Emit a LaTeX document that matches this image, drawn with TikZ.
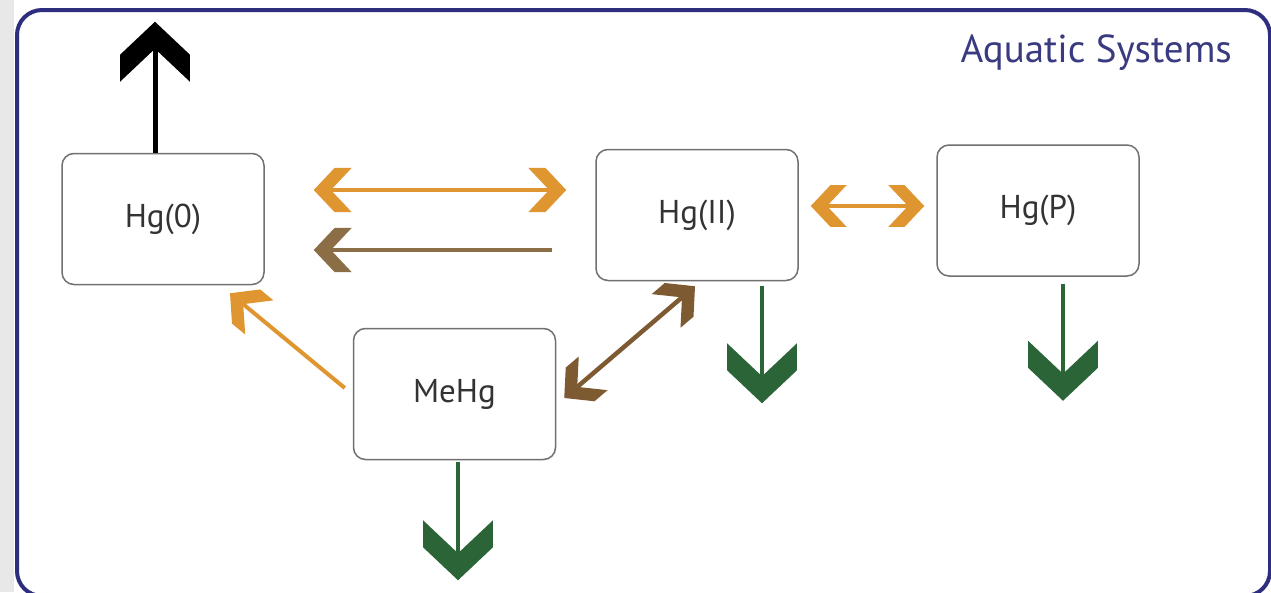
\documentclass[tikz,border=0pt]{standalone}
\usepackage{fontspec}
\setmainfont{PT Sans}
\usetikzlibrary{arrows.meta}
\definecolor{navy}{HTML}{2E2E7E}
\definecolor{titlecol}{HTML}{3A3A80}
\definecolor{boxgray}{HTML}{707070}
\definecolor{orng}{HTML}{DF9630}
\definecolor{brnlight}{HTML}{8C6E46}
\definecolor{brndark}{HTML}{7D5A32}
\definecolor{grn}{HTML}{2A6437}
\definecolor{stripgray}{HTML}{E8E8E8}

\pgfdeclarearrow{
  name = Chev,
  defaults = {length = 60pt},
  parameters = {\the\pgfarrowlength},
  setup code = {
    \pgfarrowssettipend{0pt}
    \pgfarrowssetlineend{-0.3\pgfarrowlength}
    \pgfarrowssetvisualbackend{-0.45\pgfarrowlength}
    \pgfarrowssetbackend{-\pgfarrowlength}
    \pgfarrowshullpoint{0pt}{0pt}
    \pgfarrowshullpoint{-\pgfarrowlength}{0.583\pgfarrowlength}
    \pgfarrowshullpoint{-\pgfarrowlength}{-0.583\pgfarrowlength}
    \pgfarrowssavethe\pgfarrowlength
  },
  drawing code = {
    \pgfpathmoveto{\pgfpointorigin}
    \pgfpathlineto{\pgfpoint{-0.55\pgfarrowlength}{0.583\pgfarrowlength}}
    \pgfpathlineto{\pgfpoint{-\pgfarrowlength}{0.583\pgfarrowlength}}
    \pgfpathlineto{\pgfpoint{-0.45\pgfarrowlength}{0pt}}
    \pgfpathlineto{\pgfpoint{-\pgfarrowlength}{-0.583\pgfarrowlength}}
    \pgfpathlineto{\pgfpoint{-0.55\pgfarrowlength}{-0.583\pgfarrowlength}}
    \pgfpathclose
    \pgfusepathqfill
  }
}

\tikzset{
  box/.style={draw=boxgray, line width=1.5pt, rounded corners=12pt,
    minimum width=202pt, minimum height=131pt, inner sep=0pt,
    font=\fontsize{33}{38}\selectfont, text=black!80},
  bigarr/.style={line width=4.5pt, -{Chev[length=60pt]}},
  smallone/.style={line width=4.5pt, -{Chev[length=38pt]}},
  smalltwo/.style={line width=4.5pt, {Chev[length=38pt]}-{Chev[length=38pt]}},
}

\begin{document}
\begin{tikzpicture}[x=1pt,y=1pt]
\useasboundingbox (0,0) rectangle (1271,-592);
\fill[white] (0,0) rectangle (1271,-592);
\fill[stripgray] (0,0) rectangle (14,-592);
\draw[navy, line width=4pt, rounded corners=25pt] (17,-10) rectangle (1270,-596);

\node[anchor=base east, inner sep=0pt, text=titlecol,
  font=\fontsize{39}{44}\selectfont] (title) at (1232,-62) {Aquatic Systems};

\node[box] (h0) at (163,-219) {Hg(0)};
\node[box] (h2) at (697,-215) {Hg(II)};
\node[box] (hp) at (1038,-210.5) {Hg(P)};
\node[box] (me) at (454.5,-394) {MeHg};

% volatilisation
\draw[black, bigarr, line width=5pt] ([xshift=-8pt]h0.north) -- ([shift={(-8,131)}]h0.north);

% Hg(0) <-> Hg(II)
\draw[orng, smalltwo] ([shift={(49,29)}]h0.east) -- ([shift={(-29,25)}]h2.west);
\draw[brnlight, smallone] ([shift={(-43,-35)}]h2.west) -- ([shift={(49,-31)}]h0.east);

% Hg(II) <-> Hg(P)
\draw[orng, line width=4.5pt, {Chev[length=36pt]}-{Chev[length=36pt]}]
  ([shift={(12,9)}]h2.east) -- ([shift={(-12,4.5)}]hp.west);

% MeHg -> Hg(0)
\draw[orng, smallone, line width=4pt] ([shift={(-8,6)}]me.west) -- ([shift={(67,-8)}]h0.south);

% MeHg <-> Hg(II)
\draw[brndark, smalltwo] ([shift={(8,-4)}]me.east) -- ([shift={(-2,-5)}]h2.south);

% sedimentation
\draw[grn, bigarr, line width=4pt] ([shift={(65,-5)}]h2.south) -- ([shift={(65,-122)}]h2.south);
\draw[grn, bigarr, line width=4pt] ([shift={(25,-7)}]hp.south) -- ([shift={(25,-124)}]hp.south);
\draw[grn, bigarr, line width=4pt] ([shift={(3.5,-2)}]me.south) -- ([shift={(3.5,-120)}]me.south);
\end{tikzpicture}
\end{document}
